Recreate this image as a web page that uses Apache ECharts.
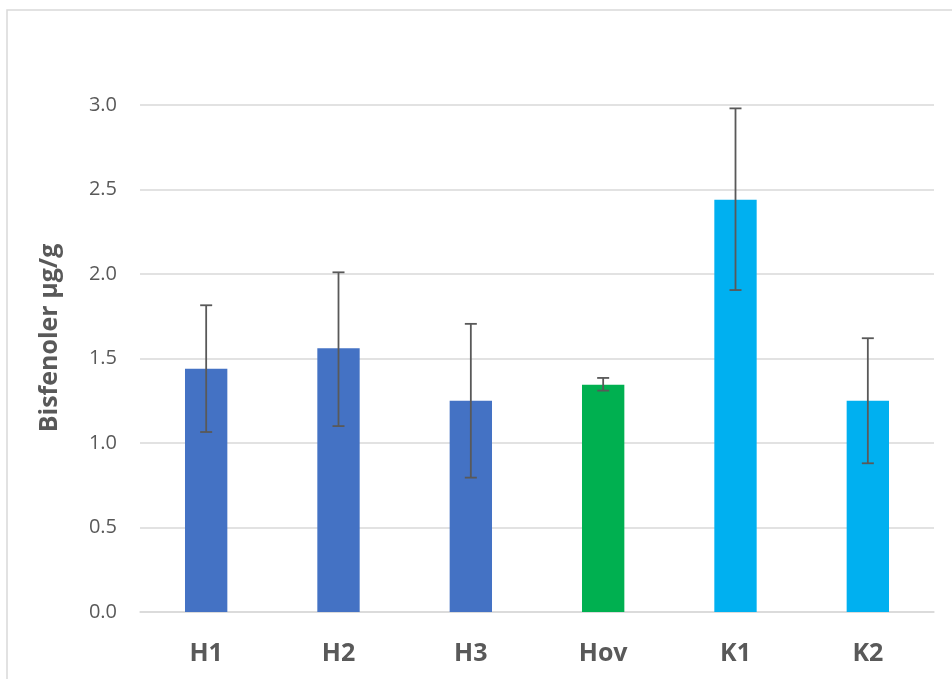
<!DOCTYPE html>
<html>
<head>
<meta charset="utf-8">
<script src="https://cdn.jsdelivr.net/npm/echarts@6/dist/echarts.min.js"></script>
<style>html,body{margin:0;padding:0;background:#fff}#c{width:952px;height:679px}</style>
</head>
<body>
<div id="c"></div>
<script>
const categories = ['H1', 'H2', 'H3', 'Hov', 'K1', 'K2'];
const values = [1.44, 1.56, 1.25, 1.345, 2.44, 1.25];
const errLow = [1.065, 1.10, 0.795, 1.31, 1.905, 0.88];
const errHigh = [1.815, 2.01, 1.705, 1.385, 2.98, 1.62];
const barColors = ['#4472C4', '#4472C4', '#4472C4', '#00B050', '#00B0F0', '#00B0F0'];
const yTicks = [0, 0.5, 1.0, 1.5, 2.0, 2.5, 3.0];
const yName = 'Bisfenoler µg/g';

const chart = echarts.init(document.getElementById('c'), null, {renderer: 'canvas'});
chart.setOption({
  animation: false,
  backgroundColor: '#fff',
  grid: {left: 140, right: 18, top: 105, bottom: 67, containLabel: false},
  graphic: [
    {type: 'rect', shape: {x: 7, y: 10, width: 1000, height: 1000}, style: {fill: 'none', stroke: '#d9d9d9', lineWidth: 1.5}, z: 0},
    {type: 'text', x: 50, y: 338, rotation: Math.PI / 2,
     style: {text: yName, font: 'bold 25px "Open Sans"', fill: '#595959', align: 'center', verticalAlign: 'middle'}}
  ],
  xAxis: {
    type: 'category', data: categories,
    axisLine: {show: true, lineStyle: {color: '#d9d9d9', width: 1.5}},
    axisTick: {show: false},
    axisLabel: {color: '#595959', fontFamily: 'Open Sans', fontWeight: 'bold', fontSize: 25, margin: 29}
  },
  yAxis: {
    type: 'value', min: yTicks[0], max: yTicks[yTicks.length - 1], interval: 0.5,
    axisLine: {show: false}, axisTick: {show: false},
    splitLine: {lineStyle: {color: '#d9d9d9', width: 1.5}},
    axisLabel: {color: '#595959', fontFamily: 'Open Sans', fontSize: 20, margin: 23,
      formatter: v => v.toFixed(1)}
  },
  series: [
    {
      type: 'bar', barWidth: '32%',
      data: values.map((v, i) => ({value: v, itemStyle: {color: barColors[i]}}))
    },
    {
      type: 'custom', z: 10,
      data: categories.map((c, i) => [i, errLow[i], errHigh[i]]),
      renderItem: function (params, api) {
        const x = api.value(0);
        const lo = api.coord([x, api.value(1)]);
        const hi = api.coord([x, api.value(2)]);
        const hw = 6;
        const st = {stroke: '#595959', lineWidth: 1.8, fill: 'none'};
        return {type: 'group', children: [
          {type: 'line', shape: {x1: lo[0], y1: lo[1], x2: hi[0], y2: hi[1]}, style: st},
          {type: 'line', shape: {x1: lo[0] - hw, y1: lo[1], x2: lo[0] + hw, y2: lo[1]}, style: st},
          {type: 'line', shape: {x1: hi[0] - hw, y1: hi[1], x2: hi[0] + hw, y2: hi[1]}, style: st}
        ]};
      }
    }
  ]
});
</script>
</body>
</html>
